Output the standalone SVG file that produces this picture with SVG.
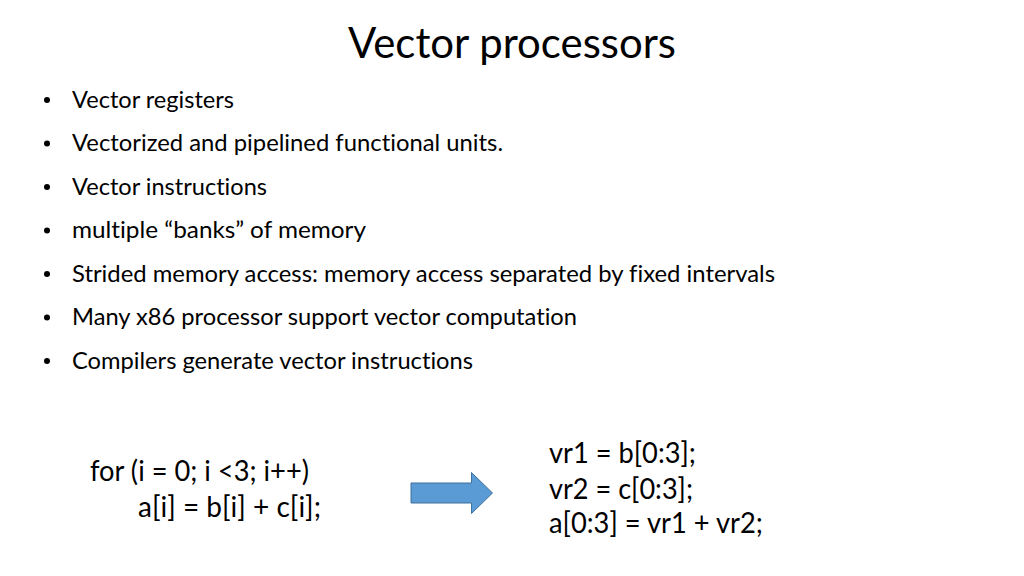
<svg xmlns="http://www.w3.org/2000/svg" width="1024" height="576" viewBox="0 0 1024 576">
<style>
text{font-family:Lato,"Open Sans","Liberation Sans",sans-serif;fill:#000;font-variant-ligatures:none}
.t{font-size:43px}
.b{font-size:24px}
.c{font-size:28.5px}
.dot{fill:#000}
</style>
<rect width="1024" height="576" fill="#fff"/>
<g id="title"><text class="t" x="348" y="58" textLength="328" lengthAdjust="spacingAndGlyphs">Vector processors</text></g>
<g id="bullets">
<circle class="dot" cx="47" cy="100" r="3"/>
<text class="b" x="72" y="107.5" textLength="162" lengthAdjust="spacingAndGlyphs">Vector registers</text>
<circle class="dot" cx="47" cy="143.5" r="3"/>
<text class="b" x="72" y="151" textLength="431" lengthAdjust="spacingAndGlyphs">Vectorized and pipelined functional units.</text>
<circle class="dot" cx="47" cy="187" r="3"/>
<text class="b" x="72" y="194.5" textLength="195" lengthAdjust="spacingAndGlyphs">Vector instructions</text>
<circle class="dot" cx="47" cy="230.5" r="3"/>
<text class="b" x="72" y="238" textLength="294" lengthAdjust="spacingAndGlyphs">multiple “banks” of memory</text>
<circle class="dot" cx="47" cy="274" r="3"/>
<text class="b" x="72" y="281.5" textLength="703" lengthAdjust="spacingAndGlyphs">Strided memory access: memory access separated by fixed intervals</text>
<circle class="dot" cx="47" cy="317.5" r="3"/>
<text class="b" x="72" y="325" textLength="505" lengthAdjust="spacingAndGlyphs">Many x86 processor support vector computation</text>
<circle class="dot" cx="47" cy="361" r="3"/>
<text class="b" x="72" y="368.5" textLength="401" lengthAdjust="spacingAndGlyphs">Compilers generate vector instructions</text>
</g>
<g id="loop">
<text class="c" x="90" y="480.5" textLength="219" lengthAdjust="spacingAndGlyphs">for (i = 0; i &lt;3; i++)</text>
<text class="c" x="138" y="516.5" textLength="183" lengthAdjust="spacingAndGlyphs">a[i] = b[i] + c[i];</text>
</g>
<g id="connectors">
<path d="M411,483 L471.5,483 L471.5,472.5 L492.5,493 L471.5,513.5 L471.5,503 L411,503 Z" fill="#5B9BD5" stroke="#41719C" stroke-width="1"/>
</g>
<g id="vector">
<text class="c" x="549" y="463" textLength="147" lengthAdjust="spacingAndGlyphs">vr1 = b[0:3];</text>
<text class="c" x="549" y="498.5" textLength="144" lengthAdjust="spacingAndGlyphs">vr2 = c[0:3];</text>
<text class="c" x="549" y="532.5" textLength="214" lengthAdjust="spacingAndGlyphs">a[0:3] = vr1 + vr2;</text>
</g>
</svg>
